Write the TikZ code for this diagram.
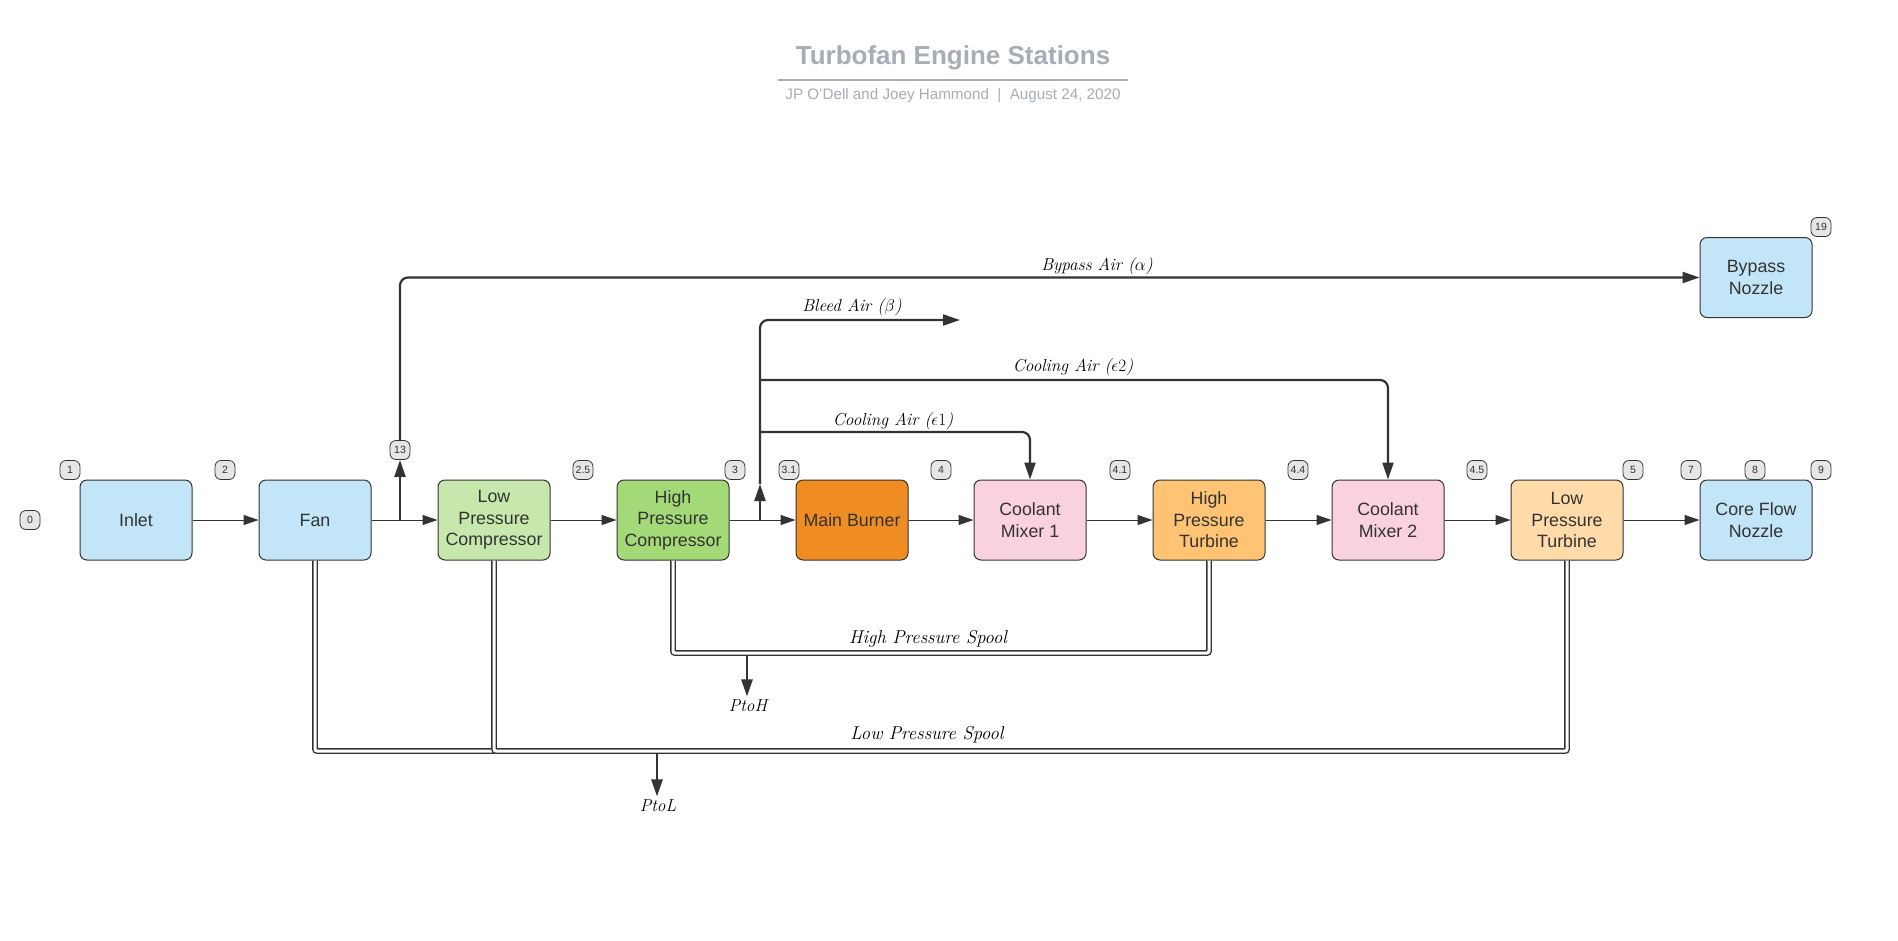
\documentclass[tikz,border=0pt]{standalone}
\usepackage{fontspec}
\setmainfont{Liberation Sans}
\newfontfamily\lmit{Latin Modern Roman}
\usetikzlibrary{arrows.meta}
\definecolor{ink}{HTML}{333333}
\definecolor{titleG}{HTML}{A7ADB6}
\definecolor{blueF}{HTML}{C2E5F7}
\definecolor{lgreenF}{HTML}{C7E8AC}
\definecolor{greenF}{HTML}{A3D977}
\definecolor{burnF}{HTML}{EF8D22}
\definecolor{pinkF}{HTML}{F9D2DE}
\definecolor{hptF}{HTML}{FFC374}
\definecolor{lptF}{HTML}{FFDBA9}
\definecolor{badgeF}{HTML}{E6E6E6}
\begin{document}
\begin{tikzpicture}[x=1pt,y=-1pt,
  box/.style={draw=ink, line width=1pt, rounded corners=7pt, minimum width=112pt, minimum height=80pt, align=center, text=ink, font=\fontsize{17.8}{21.5}\selectfont, inner sep=1pt},
  badge/.style={draw=ink, fill=badgeF, rounded corners=6pt, minimum width=20pt, minimum height=19pt, inner sep=0pt, font=\fontsize{10.5}{11}\selectfont, text=ink, line width=0.8pt},
  flow/.style={draw=ink, line width=1pt, -{Triangle[length=15pt,width=10pt]}},
  thk/.style={draw=ink, line width=2.2pt, rounded corners=8pt},
  tip/.style={-{Triangle[length=17pt,width=11pt]}},
  spool/.style={draw=ink, line width=1.4pt, double=white, double distance=3pt, rounded corners=2pt},
  lab/.style={font=\lmit\itshape\fontsize{17.3}{20}\selectfont, text=black},
  slab/.style={font=\lmit\itshape\fontsize{18.6}{21}\selectfont, text=black}
]
\fill[white] (0,0) rectangle (1898,940);
\useasboundingbox (0,0) rectangle (1898,940);

% title
\node[font=\bfseries\fontsize{26}{30}\selectfont, text=titleG] (title) at (953,58) {Turbofan Engine Stations};
\draw[titleG, line width=1.5pt] (778,80) -- (1128,80);
\node[font=\fontsize{15.2}{18}\selectfont, text=titleG] (sub) at (953,96) {JP O'Dell and Joey Hammond~~|~~August 24, 2020};

% boxes
\node[box, fill=blueF] (inlet) at (136,520) {Inlet};
\node[box, fill=blueF] (fan) at (315,520) {Fan};
\node[box, fill=lgreenF] (lpc) at (494,520) {Low\\Pressure\\Compressor};
\node[box, fill=greenF] (hpc) at (673,520) {High\\Pressure\\Compressor};
\node[box, fill=burnF] (burn) at (852,520) {Main Burner};
\node[box, fill=pinkF] (cm1) at (1030,520) {Coolant\\Mixer 1};
\node[box, fill=hptF] (hpt) at (1209,520) {High\\Pressure\\Turbine};
\node[box, fill=pinkF] (cm2) at (1388,520) {Coolant\\Mixer 2};
\node[box, fill=lptF] (lpt) at (1567,520) {Low\\Pressure\\Turbine};
\node[box, fill=blueF] (core) at (1756,520) {Core Flow\\Nozzle};
\node[box, fill=blueF] (byp) at (1756,277.5) {Bypass\\Nozzle};

% badges
\node[badge] (s0) at (30,520) {0};
\node[badge] (s1) at (70,470) {1};
\node[badge] (s2) at (225,470) {2};
\node[badge] (s13) at (400,450) {13};
\node[badge] (s25) at (583,470) {2.5};
\node[badge] (s3) at (735,470) {3};
\node[badge] (s31) at (789,470) {3.1};
\node[badge] (s4) at (941,470) {4};
\node[badge] (s41) at (1120,470) {4.1};
\node[badge] (s44) at (1298,470) {4.4};
\node[badge] (s45) at (1477,470) {4.5};
\node[badge] (s5) at (1633,470) {5};
\node[badge] (s7) at (1691,470) {7};
\node[badge] (s8) at (1755,470) {8};
\node[badge] (s9) at (1821,470) {9};
\node[badge] (s19) at (1821,227) {19};

% main flow
\draw[flow] (inlet) -- (fan);
\draw[flow] (fan) -- (lpc);
\draw[flow] (lpc) -- (hpc);
\draw[flow] (hpc) -- (burn);
\draw[flow] (burn) -- (cm1);
\draw[flow] (cm1) -- (hpt);
\draw[flow] (hpt) -- (cm2);
\draw[flow] (cm2) -- (lpt);
\draw[flow] (lpt) -- (core);

% junctions
\coordinate (j1) at (400,520);
\coordinate (j2) at (760,520);
\coordinate (bt) at (760,484);
\coordinate (bleedEnd) at (960,320);
\coordinate (c2) at (760,380);
\coordinate (c1) at (760,432);

% bypass
\draw[thk, tip] (j1) -- (s13.south);
\draw[thk, tip] (s13.north) |- (byp.west);
\node[lab] (lbyp) at (1097,266) {Bypass Air ($\alpha$)};

% bleed and cooling
\draw[thk, tip] (j2) -- (bt);
\draw[thk, tip] (bt) |- (bleedEnd);
\node[lab] (lbleed) at (852,307) {Bleed Air ($\beta$)};
\draw[thk, tip] (c2) -| (cm2.north);
\node[lab] (lc2) at (1073,367) {Cooling Air ($\epsilon2$)};
\draw[thk, tip] (c1) -| (cm1.north);
\node[lab] (lc1) at (893,421) {Cooling Air ($\epsilon1$)};

% spools
\coordinate (hpJ) at (747,655);
\coordinate (lpJ) at (657,753);
\draw[spool] (hpc.south) -- (673,653) -| (hpt.south);
\draw[spool] (fan.south) -- (315,751) -- (494,751);
\draw[spool] (lpc.south) -- (494,751) -| (lpt.south);
\node[slab] (lhp) at (928,639) {High Pressure Spool};
\node[slab] (llp) at (927,735) {Low Pressure Spool};

\node[lab] (ptoh) at (748,706) {PtoH};
\node[lab] (ptol) at (658,806) {PtoL};
\draw[thk, tip, line width=2.5pt] (hpJ) -- (hpJ |- ptoh.north);
\draw[thk, tip, line width=2.5pt] (lpJ) -- (lpJ |- ptol.north);
\end{tikzpicture}
\end{document}
